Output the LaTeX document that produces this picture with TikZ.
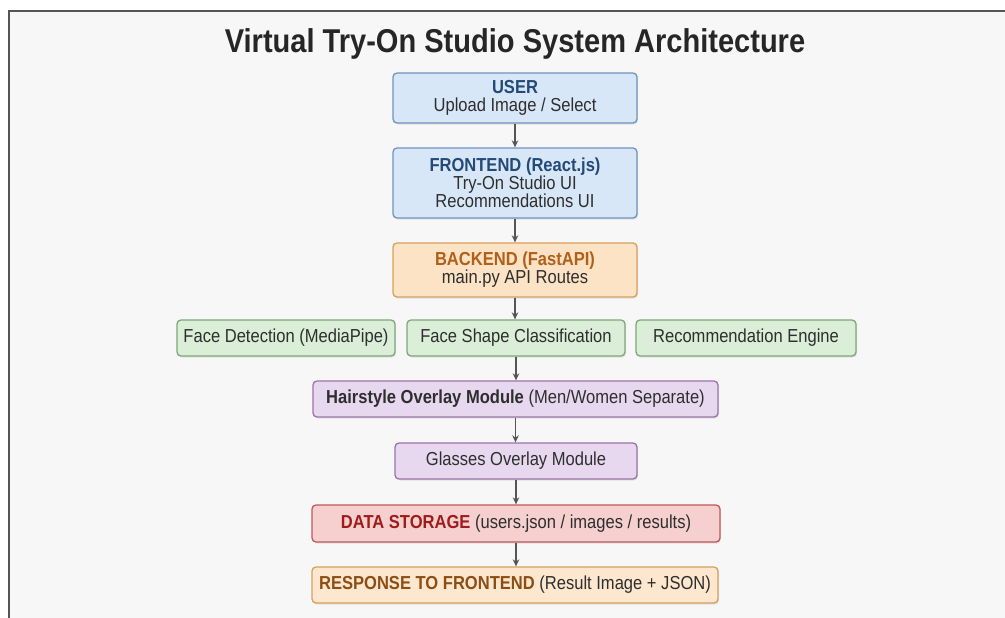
\documentclass[tikz,border=0pt]{standalone}
\usepackage{fontspec}
\setmainfont{Liberation Sans}[FakeStretch=0.88]
\usetikzlibrary{arrows.meta,shadows}
\definecolor{bgc}{HTML}{F7F7F7}
\definecolor{framec}{HTML}{555555}
\definecolor{txt}{HTML}{2E2E2E}
\definecolor{bluef}{HTML}{D8E7F7}
\definecolor{blued}{HTML}{6F94C0}
\definecolor{bluet}{HTML}{234A78}
\definecolor{orf}{HTML}{FDE3C6}
\definecolor{ord}{HTML}{D9A05B}
\definecolor{ort}{HTML}{B0601A}
\definecolor{grf}{HTML}{DAEED8}
\definecolor{grd}{HTML}{7FA77A}
\definecolor{puf}{HTML}{E8D8EF}
\definecolor{pud}{HTML}{9A74A8}
\definecolor{ref}{HTML}{F6CFCF}
\definecolor{red}{HTML}{C0575A}
\definecolor{ret}{HTML}{A01C1C}
\definecolor{rsf}{HTML}{FDE7CE}
\definecolor{rst}{HTML}{8C4E14}
\definecolor{arr}{HTML}{555555}
\begin{document}
\begin{tikzpicture}[x=1pt,y=-1pt,
  box/.style={rectangle, rounded corners=4pt, line width=1.3pt, inner sep=0pt,
    align=center, text=txt, font=\fontsize{18.8}{18.2}\selectfont,
    drop shadow={opacity=0.18, shadow xshift=1pt, shadow yshift=-1.5pt}},
  bluebox/.style={box, fill=bluef, draw=blued},
  orbox/.style={box, fill=orf, draw=ord},
  grbox/.style={box, fill=grf, draw=grd},
  pubox/.style={box, fill=puf, draw=pud},
  rebox/.style={box, fill=ref, draw=red},
  rsbox/.style={box, fill=rsf, draw=ord},
  conn/.style={draw=arr, line width=1.2pt, -{Stealth[length=7pt,width=6.5pt]}}
]
\useasboundingbox (0,0) rectangle (1005,618);
\fill[white] (0,0) rectangle (1005,618);
\fill[bgc] (9,11) rectangle (1005,618);
\draw[framec, line width=1.8pt] (9,618) -- (9,11) -- (1005,11);

\node[font=\fontsize{33}{36}\bfseries\selectfont, text=black!85] (title) at (515,44) {Virtual Try-On Studio System Architecture};

\node[bluebox, minimum width=244pt, minimum height=50pt] (user) at (515,98)
  {\textbf{\color{bluet}USER}\\Upload Image / Select};
\node[bluebox, minimum width=244pt, minimum height=70pt] (front) at (515,183)
  {\textbf{\color{bluet}FRONTEND (React.js)}\\Try-On Studio UI\\Recommendations UI};
\node[orbox, minimum width=244pt, minimum height=54pt] (back) at (515,270)
  {\textbf{\color{ort}BACKEND (FastAPI)}\\main.py API Routes};

\node[grbox, minimum width=218pt, minimum height=36pt] (face) at (286,338) {Face Detection (MediaPipe)};
\node[grbox, minimum width=218pt, minimum height=36pt] (shape) at (516,338) {Face Shape Classification};
\node[grbox, minimum width=220pt, minimum height=36pt] (rec) at (746,338) {Recommendation Engine};

\node[pubox, minimum width=405pt, minimum height=36pt] (hair) at (515.5,399)
  {\textbf{Hairstyle Overlay Module} (Men/Women Separate)};
\node[pubox, minimum width=242pt, minimum height=36pt] (glass) at (516,461)
  {Glasses Overlay Module};
\node[rebox, minimum width=408pt, minimum height=37pt] (data) at (516,523.5)
  {\textbf{\color{ret}DATA STORAGE} (users.json / images / results)};
\node[rsbox, minimum width=406pt, minimum height=36pt] (resp) at (515,585)
  {\textbf{\color{rst}RESPONSE TO FRONTEND} (Result Image + JSON)};

\draw[conn] (user.south) -- (user.south |- front.north);
\draw[conn] (front.south) -- (front.south |- back.north);
\draw[conn] (back.south) -- (back.south |- shape.north);
\draw[conn] (shape.south) -- (shape.south |- hair.north);
\draw[conn] (hair.south) -- (hair.south |- glass.north);
\draw[conn] (glass.south) -- (glass.south |- data.north);
\draw[conn] (data.south) -- (data.south |- resp.north);
\end{tikzpicture}
\end{document}
